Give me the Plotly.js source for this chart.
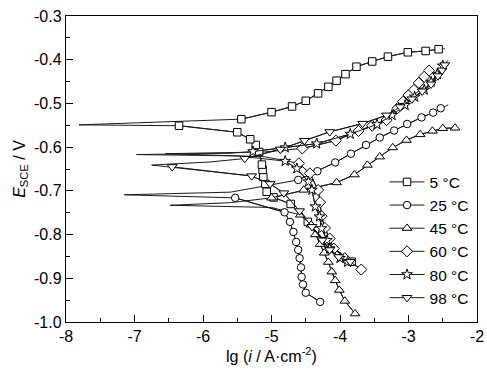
<!DOCTYPE html>
<html>
<head>
<meta charset="utf-8">
<script src="https://cdn.plot.ly/plotly-3.0.1.min.js"></script>
<style>html,body{margin:0;padding:0;background:#fff;}#plot{width:487px;height:370px;}</style>
</head>
<body>
<div id="plot"></div>
<script>
// ---- Data (lg i in A/cm2, E vs SCE in V) ----
const seriesNames = ['5 °C', '25 °C', '45 °C', '60 °C', '80 °C', '98 °C'];

// 5 °C
const t5_cathI = [-3.83, -4.22, -4.47, -4.72, -4.97, -5.07, -5.09, -5.12, -5.13, -5.14, -5.18, -5.23, -5.31, -5.50, -6.35];
const t5_cathE = [-0.862, -0.815, -0.771, -0.730, -0.715, -0.702, -0.684, -0.668, -0.652, -0.640, -0.611, -0.595, -0.582, -0.566, -0.551];
const t5_tipI = [-7.81];
const t5_tipE = [-0.549];
const t5_anodI = [-5.44, -5.00, -4.70, -4.50, -4.32, -4.17, -4.05, -3.92, -3.76, -3.53, -3.30, -3.01, -2.75, -2.56];
const t5_anodE = [-0.536, -0.520, -0.507, -0.494, -0.477, -0.462, -0.448, -0.433, -0.416, -0.404, -0.393, -0.383, -0.380, -0.376];
const t5_tailI = [-2.47];
const t5_tailE = [-0.375];

// 25 °C
const t25_cathI = [-4.29, -4.50, -4.54, -4.56, -4.57, -4.59, -4.61, -4.64, -4.68, -4.73, -4.81, -5.53];
const t25_cathE = [-0.954, -0.933, -0.914, -0.897, -0.875, -0.854, -0.835, -0.817, -0.794, -0.771, -0.749, -0.716];
const t25_tipI = [-7.15, -5.60];
const t25_tipE = [-0.709, -0.703];
const t25_anodI = [-4.61, -4.33, -4.07, -3.84, -3.62, -3.42, -3.21, -3.02, -2.81, -2.64, -2.53];
const t25_anodE = [-0.675, -0.655, -0.635, -0.615, -0.595, -0.578, -0.562, -0.547, -0.532, -0.521, -0.511];
const t25_tailI = [-2.42];
const t25_tailE = [-0.503];

// 45 °C
const t45_cathI = [-3.78, -3.93, -4.01, -4.07, -4.12, -4.17, -4.23, -4.29, -4.36, -4.42, -4.58];
const t45_cathE = [-0.981, -0.952, -0.927, -0.905, -0.885, -0.863, -0.842, -0.822, -0.800, -0.778, -0.755];
const t45_tipI = [-5.00, -6.48, -5.60];
const t45_tipE = [-0.738, -0.733, -0.727];
const t45_anodI = [-5.00, -4.53, -4.05, -3.79, -3.60, -3.42, -3.23, -3.03, -2.83, -2.65, -2.50, -2.32];
const t45_anodE = [-0.716, -0.698, -0.681, -0.663, -0.641, -0.622, -0.601, -0.584, -0.571, -0.563, -0.557, -0.556];
const t45_tailI = [];
const t45_tailE = [];

// 60 °C
const t60_cathI = [-3.69, -3.93, -4.09, -4.15, -4.22, -4.27, -4.29, -4.32, -4.44, -4.60];
const t60_cathE = [-0.880, -0.854, -0.832, -0.809, -0.785, -0.758, -0.726, -0.698, -0.660, -0.637];
const t60_tipI = [-5.10, -6.55, -5.10];
const t60_tipE = [-0.622, -0.615, -0.611];
const t60_anodI = [-4.55, -4.06, -3.73, -3.53, -3.32, -3.16, -3.08, -3.00, -2.92, -2.85, -2.77, -2.70];
const t60_anodE = [-0.603, -0.585, -0.563, -0.551, -0.538, -0.511, -0.496, -0.481, -0.469, -0.453, -0.439, -0.425];
const t60_tailI = [];
const t60_tailE = [];

// 80 °C
const t80_cathI = [-3.89, -4.00, -4.15, -4.19, -4.27, -4.30, -4.36, -4.41, -4.46, -4.63, -4.80];
const t80_cathE = [-0.863, -0.854, -0.832, -0.813, -0.786, -0.759, -0.736, -0.698, -0.679, -0.649, -0.632];
const t80_tipI = [-5.50, -6.97, -5.60];
const t80_tipE = [-0.620, -0.617, -0.614];
const t80_anodI = [-5.27, -4.80, -4.34, -3.85, -3.46, -3.24, -3.05, -2.91, -2.77, -2.67, -2.58, -2.50];
const t80_anodE = [-0.610, -0.601, -0.592, -0.570, -0.548, -0.527, -0.504, -0.485, -0.469, -0.451, -0.433, -0.414];
const t80_tailI = [-2.42];
const t80_tailE = [-0.401];

// 98 °C
const t98_cathI = [-3.85, -4.02, -4.15, -4.26, -4.41, -4.59, -4.82, -5.02, -5.29, -6.45];
const t98_cathE = [-0.862, -0.851, -0.835, -0.813, -0.782, -0.746, -0.705, -0.684, -0.666, -0.645];
const t98_tipI = [-6.75, -5.90];
const t98_tipE = [-0.641, -0.634];
const t98_anodI = [-5.39, -4.87, -4.52, -4.15, -3.67, -3.32, -3.12, -2.95, -2.80, -2.67, -2.57, -2.51, -2.47];
const t98_anodE = [-0.626, -0.605, -0.585, -0.565, -0.546, -0.527, -0.508, -0.490, -0.472, -0.456, -0.437, -0.424, -0.412];
const t98_tailI = [];
const t98_tailE = [];

const xTickVals = [-8, -7, -6, -5, -4, -3, -2];
const xTickText = ['-8', '-7', '-6', '-5', '-4', '-3', '-2'];
const xMinorVals = [-7.5, -6.5, -5.5, -4.5, -3.5, -2.5];
const yTickVals = [-1.0, -0.9, -0.8, -0.7, -0.6, -0.5, -0.4, -0.3];
const yTickText = ['-1.0', '-0.9', '-0.8', '-0.7', '-0.6', '-0.5', '-0.4', '-0.3'];
const yMinorVals = [-0.95, -0.85, -0.75, -0.65, -0.55, -0.45, -0.35];

// ---- Build traces ----
const groups = [
  [t5_cathI, t5_cathE, t5_tipI, t5_tipE, t5_anodI, t5_anodE, t5_tailI, t5_tailE],
  [t25_cathI, t25_cathE, t25_tipI, t25_tipE, t25_anodI, t25_anodE, t25_tailI, t25_tailE],
  [t45_cathI, t45_cathE, t45_tipI, t45_tipE, t45_anodI, t45_anodE, t45_tailI, t45_tailE],
  [t60_cathI, t60_cathE, t60_tipI, t60_tipE, t60_anodI, t60_anodE, t60_tailI, t60_tailE],
  [t80_cathI, t80_cathE, t80_tipI, t80_tipE, t80_anodI, t80_anodE, t80_tailI, t80_tailE],
  [t98_cathI, t98_cathE, t98_tipI, t98_tipE, t98_anodI, t98_anodE, t98_tailI, t98_tailE]
];
const symbols = ['square', 'circle', 'triangle-up', 'diamond', 'star', 'triangle-down'];
const sizes = [7.5, 7.5, 8.5, 8.5, 8, 8.5];
const lineColor = '#1a1a1a';

const lineTraces = [];
const markerTraces = [];
groups.forEach((g, k) => {
  const [cI, cE, tI, tE, aI, aE, lI, lE] = g;
  lineTraces.push({
    type: 'scatter', mode: 'lines',
    x: cI.concat(tI, aI, lI), y: cE.concat(tE, aE, lE),
    line: {color: lineColor, width: 1}, showlegend: false, hoverinfo: 'skip'
  });
  markerTraces.push({
    type: 'scatter', mode: 'lines+markers', name: seriesNames[k],
    x: cI.concat([null], aI), y: cE.concat([null], aE),
    connectgaps: false,
    line: {color: lineColor, width: 1},
    marker: {symbol: symbols[k], size: sizes[k], color: '#ffffff',
             line: {color: '#000000', width: 1}}
  });
});

const fontFam = 'Arial, "Liberation Sans", Helvetica, sans-serif';
const layout = {
  width: 487, height: 370,
  margin: {l: 66, r: 10, t: 16, b: 48},
  paper_bgcolor: '#fff', plot_bgcolor: '#fff',
  font: {family: fontFam, size: 15, color: '#000'},
  showlegend: true,
  legend: {
    x: 0.775, y: 0.512, xanchor: 'left', yanchor: 'top',
    bgcolor: 'rgba(0,0,0,0)', borderwidth: 0,
    font: {family: fontFam, size: 15.5, color: '#000'},
    itemwidth: 35, tracegroupgap: 0
  },
  xaxis: {
    range: [-8, -2], tickmode: 'array', tickvals: xTickVals, ticktext: xTickText,
    ticks: 'inside', ticklen: 7, tickwidth: 1, tickcolor: '#000',
    minor: {tickmode: 'array', tickvals: xMinorVals, ticks: 'inside', ticklen: 4, tickwidth: 1, tickcolor: '#000', showgrid: false},
    showline: true, linecolor: '#000', linewidth: 1.2, mirror: true,
    showgrid: false, zeroline: false,
    tickfont: {family: fontFam, size: 16, color: '#000'},
    title: {text: 'lg (<i>i</i> / A·cm<sup>-2</sup>)', font: {family: fontFam, size: 16, color: '#000'}, standoff: 5}
  },
  yaxis: {
    range: [-1.0, -0.3], tickmode: 'array', tickvals: yTickVals, ticktext: yTickText,
    ticks: 'inside', ticklen: 7, tickwidth: 1, tickcolor: '#000',
    minor: {tickmode: 'array', tickvals: yMinorVals, ticks: 'inside', ticklen: 4, tickwidth: 1, tickcolor: '#000', showgrid: false},
    showline: true, linecolor: '#000', linewidth: 1.2, mirror: true,
    showgrid: false, zeroline: false,
    tickfont: {family: fontFam, size: 16, color: '#000'},
    title: {text: '<i>E</i><sub>SCE</sub> / V', font: {family: fontFam, size: 16, color: '#000'}, standoff: 4}
  }
};

Plotly.newPlot('plot', lineTraces.concat(markerTraces), layout, {displayModeBar: false, staticPlot: true});
</script>
</body>
</html>
